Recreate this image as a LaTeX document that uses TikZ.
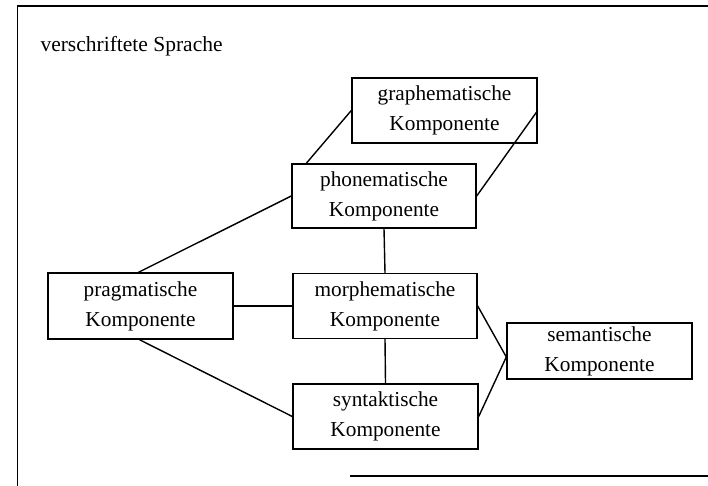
\documentclass[tikz,border=0pt]{standalone}
\usepackage{fontspec}
\setmainfont{Liberation Serif}
\usetikzlibrary{calc}
\tikzset{
  comp/.style={draw, line width=1.4pt, align=center, inner sep=0pt,
    minimum width=185pt, minimum height=65pt, font=\fontsize{21.3}{30}\selectfont},
  link/.style={line width=1.4pt},
  frameline/.style={line width=1.3pt}
}
\begin{document}
\begin{tikzpicture}[x=1pt,y=-1pt]
  \useasboundingbox (0,0) rectangle (708,486);
  % outer frame of the "verschriftete Sprache" area
  \coordinate (ftl) at (17.5,6);
  \coordinate (ftr) at (708,6);
  \coordinate (fbl) at (17.5,486);
  \coordinate (fbs) at (350,476);
  \coordinate (fbr) at (708,476);
  \draw[frameline] (fbl) -- (ftl) -- (ftr);
  \draw[frameline] (fbs) -- (fbr);
  \node[anchor=base west, font=\fontsize{21.5}{26}\selectfont] (title) at (37,52) {verschriftete Sprache};

  % components
  \node[comp] (graph) at (444.5,110.5) {graphematische\\Komponente};
  \node[comp, minimum width=184pt, minimum height=64pt] (phon) at (384,196) {phonematische\\Komponente};
  \node[comp, minimum height=66pt] (prag) at (140.5,306) {pragmatische\\Komponente};
  \node[comp, minimum width=184pt] (morph) at (385,306) {morphematische\\Komponente};
  \node[comp, minimum height=56pt] (sem) at (599.5,351) {semantische\\Komponente};
  \node[comp] (synt) at (385.5,416.5) {syntaktische\\Komponente};

  % connections
  \coordinate (semin) at ($(sem.west)+(0,6)$);
  \draw[link] (graph.west) -- ($(phon.north west)+(15,0)$);
  \draw[link] (graph.east) -- (phon.east);
  \draw[link] ($(prag.north)+(-2,0)$) -- (phon.west);
  \draw[link] (prag.east) -- (morph.west);
  \draw[link] ($(prag.south)+(-1,0)$) -- (synt.west);
  \draw[link] (phon.south) -- (morph.north);
  \draw[link] (morph.south) -- (synt.north);
  \draw[link] (morph.east) -- (semin);
  \draw[link] (synt.east) -- (semin);
\end{tikzpicture}
\end{document}
